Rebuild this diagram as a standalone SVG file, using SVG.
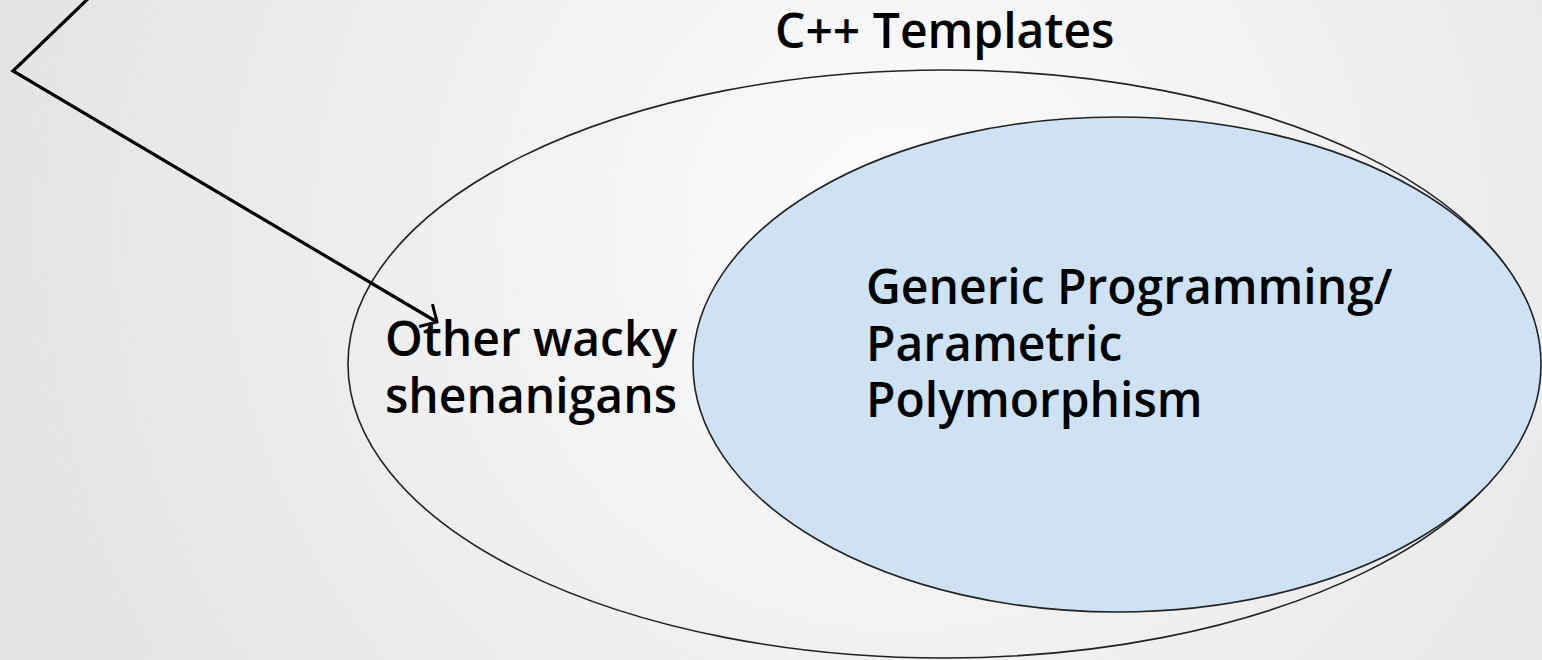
<svg xmlns="http://www.w3.org/2000/svg" width="1542" height="660" viewBox="0 0 1542 660">
  <defs>
    <radialGradient id="bg" cx="900" cy="230" r="950" gradientUnits="userSpaceOnUse">
      <stop offset="0" stop-color="#fcfcfc"/>
      <stop offset="1" stop-color="#e3e3e3"/>
    </radialGradient>
    <marker id="open-arrow" markerUnits="userSpaceOnUse" viewBox="-16 -16 19 32" markerWidth="19" markerHeight="32" refX="0" refY="0" orient="auto">
      <path d="M-13,-13 L0,0 L-13,13" fill="none" stroke="#000" stroke-width="3"/>
    </marker>
    <style>
      .set { stroke: #222; stroke-width: 1.6; }
      .label { font-family: "Open Sans", "Liberation Sans", sans-serif; font-size: 48px; font-weight: 600; fill: #000; }
      .conn { fill: none; stroke: #000; stroke-width: 3.2; }
    </style>
  </defs>
  <rect x="0" y="0" width="1542" height="660" fill="url(#bg)"/>
  <g id="cpp-templates">
    <ellipse class="set" cx="944" cy="364" rx="596" ry="294" fill="none"/>
    <text class="label" x="775" y="48">C++ Templates</text>
  </g>
  <g id="generic-programming">
    <ellipse class="set" cx="1117" cy="364.5" rx="424" ry="247.5" fill="#cfe2f3"/>
    <text class="label" x="866" y="304">Generic Programming/</text>
    <text class="label" x="866" y="361">Parametric</text>
    <text class="label" x="866" y="417">Polymorphism</text>
  </g>
  <g id="other-wacky">
    <text class="label" x="385" y="356">Other wacky</text>
    <text class="label" x="385" y="413">shenanigans</text>
  </g>
  <g id="connectors">
    <polyline class="conn" points="95,-8 13,71 437,322" marker-end="url(#open-arrow)"/>
  </g>
</svg>
